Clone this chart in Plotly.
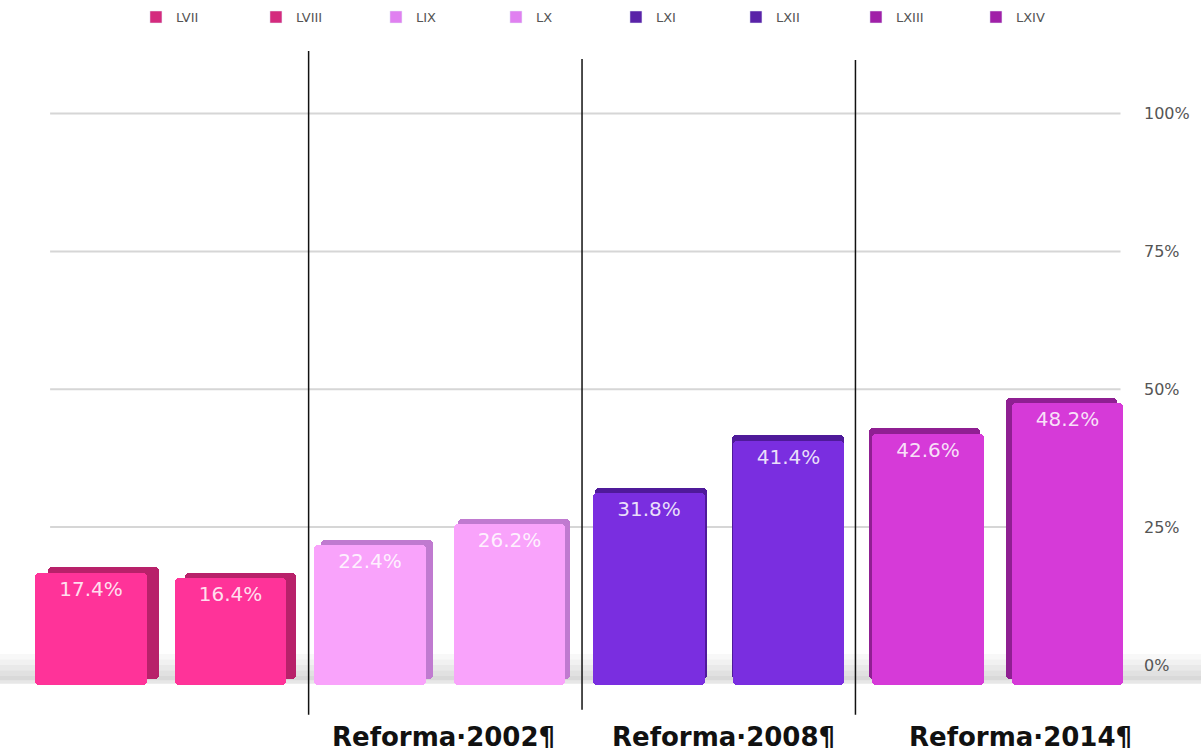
import plotly.graph_objects as go

# ---- data ----
categories = ["LVII", "LVIII", "LIX", "LX", "LXI", "LXII", "LXIII", "LXIV"]
values = [17.4, 16.4, 22.4, 26.2, 31.8, 41.4, 42.6, 48.2]
front_colors = ["#ff3399", "#ff3399", "#f9a3fb", "#f9a3fb", "#7a2ee0", "#7a2ee0", "#d63ad8", "#d63ad8"]
side_colors = ["#b8216a", "#b8216a", "#c07ad0", "#c07ad0", "#4f1a9a", "#4f1a9a", "#8f1f92", "#8f1f92"]
legend_colors = ["#d42a7e", "#d42a7e", "#e080f0", "#e080f0", "#5a22a8", "#5a22a8", "#a020a8", "#a020a8"]
tick_vals = [0, 25, 50, 75, 100]
tick_text = ["0%", "25%", "50%", "75%", "100%"]
groups = ["Reforma·2002¶", "Reforma·2008¶", "Reforma·2014¶"]

FONT = "DejaVu Sans, Liberation Sans, Arial, sans-serif"
BASE = -3.6

fig = go.Figure()

# back (side/top) faces, shifted for a perspective look
for i, (c, v) in enumerate(zip(categories, values)):
    off = 0.09 - i * 0.019
    fig.add_trace(go.Bar(
        x=[i + off], y=[v + 0.3 - (BASE + 1.0)], base=BASE + 1.0, width=0.8,
        marker=dict(color=side_colors[i], line=dict(width=0), cornerradius=4),
        showlegend=False, hoverinfo="skip"))

# front faces
for i, (c, v) in enumerate(zip(categories, values)):
    fig.add_trace(go.Bar(
        x=[i], y=[v - 0.7 - BASE], base=BASE, width=0.8, name=c,
        marker=dict(color=front_colors[i], line=dict(width=0), cornerradius=4),
        text=[f"{v}%"], textposition="inside", insidetextanchor="end",
        textangle=0, constraintext="none",
        textfont=dict(color="rgba(255,255,255,0.85)", size=20, family=FONT),
        showlegend=False))

# legend entries
for i, c in enumerate(categories):
    fig.add_trace(go.Bar(x=[None], y=[None], name=c, marker_color=legend_colors[i]))

shapes = []
# floor shadow band
band = [(2.0, 1.0, 0.05), (1.0, 0.0, 0.10), (0.0, -1.0, 0.16), (-1.0, -2.0, 0.22),
        (-2.0, -2.8, 0.28), (-2.8, -3.4, 0.18)]
for y0, y1, a in band:
    shapes.append(dict(type="rect", xref="paper", yref="y", x0=-0.02, x1=1.06, y0=y0, y1=y1,
                       fillcolor=f"rgba(120,120,120,{a})", line=dict(width=0), layer="below"))
# gridlines
for t in tick_vals[1:]:
    shapes.append(dict(type="line", xref="paper", yref="y", x0=0.027, x1=0.987, y0=t, y1=t,
                       line=dict(color="#d6d6d6", width=2), layer="below"))
# separators
for xv, ya, yb in [(1.56, 1.0385, -0.027), (3.52, 1.0257, -0.019), (5.48, 1.024, -0.027)]:
    shapes.append(dict(type="line", xref="x", yref="paper", x0=xv, x1=xv, y0=yb, y1=ya,
                       line=dict(color="#111", width=1.5), layer="above"))

annotations = []
for g, xp in zip(groups, [0.3794, 0.6305, 0.8969]):
    annotations.append(dict(text=f"<b>{g}</b>", xref="paper", yref="paper", x=xp, y=-0.0626,
                            showarrow=False, xanchor="center", yanchor="middle",
                            font=dict(family=FONT, size=26, color="#111")))

fig.update_layout(
    width=1201, height=753,
    margin=dict(l=20, r=66, t=75, b=55, autoexpand=False),
    paper_bgcolor="white", plot_bgcolor="rgba(0,0,0,0)",
    barmode="overlay",
    bargap=0,
    xaxis=dict(range=[-0.509, 7.484], showticklabels=False, showgrid=False, zeroline=False,
               showline=False, fixedrange=True),
    yaxis=dict(range=[-6, 107], side="right", tickvals=tick_vals, ticktext=tick_text,
               showgrid=False, zeroline=False, showline=False, ticks="",
               ticklabelstandoff=8,
               tickfont=dict(family=FONT, size=16, color="#555")),
    legend=dict(orientation="h", x=0.104, y=1.093, xanchor="left", yanchor="middle",
                entrywidth=75, entrywidthmode="pixels",
                font=dict(family=FONT, size=13, color="#555"), itemclick=False),
    shapes=shapes, annotations=annotations,
    font=dict(family=FONT),
)

fig.write_html("out.html", config={"displayModeBar": False},
               post_script="document.body.style.margin='0';document.body.style.overflow='hidden';")
